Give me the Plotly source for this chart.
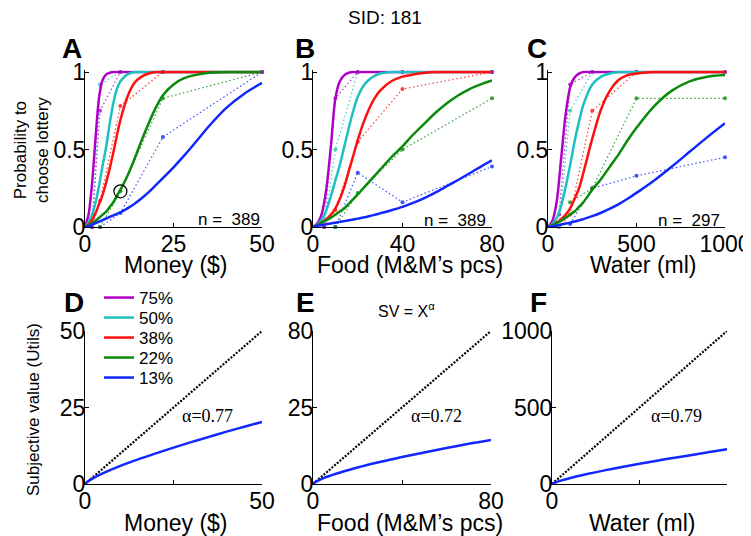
import plotly.graph_objects as go

W, H = 751, 536          # reference picture size
OFF = 8                  # browser body margin
FW, FH = W - OFF, H - OFF
FONT = "Liberation Sans, Arial, sans-serif"
SERIF = "Liberation Serif, Times New Roman, serif"

# ---------------- data ----------------
series_names = ["75%", "50%", "38%", "22%", "13%"]
series_colors = ["#b000c8", "#1cc0c0", "#ff1010", "#0a8a0a", "#1028ff"]

# Panel A: Money ($) - fitted curves
money_fit_x = [0, 1, 2, 3, 4, 5, 6, 7, 8, 9, 10, 12, 14, 16, 18, 20, 22, 25, 28, 31, 35, 40, 45, 50]
money_fit_75 = [0, 0.08, 0.28, 0.58, 0.84, 0.95, 0.985, 0.995, 1, 1, 1, 1, 1, 1, 1, 1, 1, 1, 1, 1, 1, 1, 1, 1]
money_fit_50 = [0, 0.03, 0.08, 0.16, 0.27, 0.4, 0.52, 0.67, 0.8, 0.89, 0.94, 0.985, 1, 1, 1, 1, 1, 1, 1, 1, 1, 1, 1, 1]
money_fit_38 = [0, 0.015, 0.045, 0.09, 0.15, 0.21, 0.29, 0.38, 0.48, 0.59, 0.69, 0.84, 0.93, 0.97, 0.99, 1, 1, 1, 1, 1, 1, 1, 1, 1]
money_fit_22 = [0, 0.01, 0.025, 0.04, 0.06, 0.08, 0.1, 0.13, 0.16, 0.2, 0.24, 0.33, 0.44, 0.56, 0.67, 0.77, 0.85, 0.92, 0.96, 0.98, 0.995, 1, 1, 1]
money_fit_13 = [0, 0.005, 0.015, 0.025, 0.035, 0.045, 0.055, 0.065, 0.075, 0.085, 0.095, 0.12, 0.15, 0.185, 0.225, 0.27, 0.315, 0.385, 0.46, 0.54, 0.65, 0.77, 0.86, 0.93]

# Panel A: observed choice proportions
money_pts_x_75 = [2, 4.25, 10, 22, 50]
money_pts_y_75 = [0, 0.75, 1, 1, 1]
money_pts_x_50 = [2, 4.25, 10, 22, 50]
money_pts_y_50 = [0, 0.92, 1, 1, 1]
money_pts_x_38 = [2, 4.25, 10, 22, 50]
money_pts_y_38 = [0, 0.17, 0.78, 1, 1]
money_pts_x_22 = [4.25, 10, 22, 50]
money_pts_y_22 = [0, 0.23, 0.83, 1]
money_pts_x_13 = [4.25, 10, 22, 50]
money_pts_y_13 = [0, 0.09, 0.58, 1]
money_circle_x = [10]
money_circle_y = [0.23]

# Panel B: Food (M&M's pcs)
food_fit_x = [0, 2, 4, 6, 8, 10, 12, 14, 16, 18, 20, 22.5, 25, 27.5, 30, 35, 40, 45, 50, 55, 60, 65, 70, 75, 80]
food_fit_75 = [0, 0.025, 0.09, 0.25, 0.52, 0.83, 0.94, 0.98, 0.995, 1, 1, 1, 1, 1, 1, 1, 1, 1, 1, 1, 1, 1, 1, 1, 1]
food_fit_50 = [0, 0.015, 0.05, 0.11, 0.2, 0.3, 0.4, 0.52, 0.64, 0.75, 0.84, 0.91, 0.95, 0.975, 0.99, 1, 1, 1, 1, 1, 1, 1, 1, 1, 1]
food_fit_38 = [0, 0.01, 0.03, 0.05, 0.08, 0.12, 0.18, 0.26, 0.36, 0.46, 0.56, 0.67, 0.76, 0.83, 0.88, 0.94, 0.97, 0.985, 0.995, 1, 1, 1, 1, 1, 1]
food_fit_22 = [0, 0.01, 0.03, 0.045, 0.06, 0.08, 0.1, 0.12, 0.15, 0.18, 0.21, 0.25, 0.29, 0.33, 0.37, 0.45, 0.52, 0.6, 0.67, 0.74, 0.8, 0.85, 0.89, 0.92, 0.945]
food_fit_13 = [0, 0.008, 0.013, 0.018, 0.023, 0.028, 0.033, 0.038, 0.043, 0.048, 0.054, 0.061, 0.069, 0.078, 0.088, 0.108, 0.13, 0.157, 0.188, 0.225, 0.265, 0.305, 0.347, 0.39, 0.43]

food_pts_x_75 = [5, 10, 20, 40, 80]
food_pts_y_75 = [0, 0.83, 1, 1, 1]
food_pts_x_50 = [5, 10, 20, 40, 80]
food_pts_y_50 = [0, 0.5, 1, 1, 1]
food_pts_x_38 = [5, 10, 20, 40, 80]
food_pts_y_38 = [0, 0.11, 0.55, 0.89, 1]
food_pts_x_22 = [10, 20, 40, 80]
food_pts_y_22 = [0, 0.22, 0.5, 0.83]
food_pts_x_13 = [10, 20, 40, 80]
food_pts_y_13 = [0, 0.35, 0.16, 0.39]

# Panel C: Water (ml)
water_fit_x = [0, 25, 50, 75, 100, 125, 150, 175, 200, 250, 300, 350, 400, 450, 500, 600, 700, 800, 900, 1000]
water_fit_75 = [0, 0.04, 0.17, 0.45, 0.73, 0.9, 0.965, 0.99, 1, 1, 1, 1, 1, 1, 1, 1, 1, 1, 1, 1]
water_fit_50 = [0, 0.02, 0.06, 0.14, 0.26, 0.4, 0.55, 0.68, 0.79, 0.92, 0.97, 0.99, 1, 1, 1, 1, 1, 1, 1, 1]
water_fit_38 = [0, 0.01, 0.03, 0.05, 0.08, 0.12, 0.18, 0.25, 0.35, 0.57, 0.76, 0.88, 0.95, 0.98, 0.99, 1, 1, 1, 1, 1]
water_fit_22 = [0, 0.01, 0.025, 0.04, 0.06, 0.08, 0.1, 0.13, 0.16, 0.24, 0.31, 0.39, 0.47, 0.56, 0.64, 0.78, 0.88, 0.94, 0.97, 0.98]
water_fit_13 = [0, 0.005, 0.01, 0.016, 0.022, 0.028, 0.035, 0.043, 0.051, 0.07, 0.092, 0.118, 0.148, 0.182, 0.22, 0.3, 0.39, 0.485, 0.58, 0.67]

water_pts_x_75 = [62.5, 125, 250, 500, 1000]
water_pts_y_75 = [0.08, 0.92, 1, 1, 1]
water_pts_x_50 = [62.5, 125, 250, 500, 1000]
water_pts_y_50 = [0, 0.75, 1, 1, 1]
water_pts_x_38 = [62.5, 125, 250, 500, 1000]
water_pts_y_38 = [0, 0.08, 0.75, 1, 1]
water_pts_x_22 = [125, 250, 500, 1000]
water_pts_y_22 = [0.16, 0.25, 0.83, 0.83]
water_pts_x_13 = [125, 250, 500, 1000]
water_pts_y_13 = [0.02, 0.25, 0.33, 0.45]

n_trials = ["389", "389", "297"]

# Subjective value panels
money_sv_x = [0, 1, 2.5, 5, 10, 15, 20, 25, 30, 35, 40, 45, 50]
money_sv_y = [0, 1.0, 2.0, 3.45, 5.9, 8.05, 10.0, 11.9, 13.7, 15.4, 17.1, 18.7, 20.3]
food_sv_x = [0, 1, 2.5, 5, 10, 20, 30, 40, 50, 60, 70, 80]
food_sv_y = [0, 1.0, 1.9, 3.2, 5.2, 8.6, 11.5, 14.1, 16.5, 18.8, 21.0, 23.0]
water_sv_x = [0, 10, 25, 50, 100, 200, 300, 400, 500, 600, 700, 800, 900, 1000]
water_sv_y = [0, 6.2, 12.7, 22, 38, 65, 89, 111, 132, 152, 172, 190, 209, 228]
alphas = ["0.77", "0.72", "0.79"]

money_identity = [0, 50]
food_identity = [0, 80]
water_identity = [0, 1000]

# ---------------- helpers (reference pixel -> paper) ----------------
def px(x):
    return (x - OFF) / FW

def py(y):
    return 1 - (y - OFF) / FH

legend_keys = ["legend", "legend2", "legend3", "legend4", "legend5"]

fig = go.Figure()

top_panels = [
    ("x", "y", money_fit_x, [money_fit_75, money_fit_50, money_fit_38, money_fit_22, money_fit_13],
     [(money_pts_x_75, money_pts_y_75), (money_pts_x_50, money_pts_y_50), (money_pts_x_38, money_pts_y_38),
      (money_pts_x_22, money_pts_y_22), (money_pts_x_13, money_pts_y_13)]),
    ("x2", "y2", food_fit_x, [food_fit_75, food_fit_50, food_fit_38, food_fit_22, food_fit_13],
     [(food_pts_x_75, food_pts_y_75), (food_pts_x_50, food_pts_y_50), (food_pts_x_38, food_pts_y_38),
      (food_pts_x_22, food_pts_y_22), (food_pts_x_13, food_pts_y_13)]),
    ("x3", "y3", water_fit_x, [water_fit_75, water_fit_50, water_fit_38, water_fit_22, water_fit_13],
     [(water_pts_x_75, water_pts_y_75), (water_pts_x_50, water_pts_y_50), (water_pts_x_38, water_pts_y_38),
      (water_pts_x_22, water_pts_y_22), (water_pts_x_13, water_pts_y_13)]),
]

for pi, (xa, ya, fx, fits, pts) in enumerate(top_panels):
    for si in range(4, -1, -1):
        xs, ys = pts[si]
        fig.add_trace(go.Scatter(
            x=xs, y=ys, xaxis=xa, yaxis=ya, mode="lines+markers",
            line=dict(color=series_colors[si], width=1.2, dash="1.5px,2.5px"),
            marker=dict(size=4, color=series_colors[si]), opacity=0.8,
            cliponaxis=False, showlegend=False, hoverinfo="skip"))
for pi, (xa, ya, fx, fits, pts) in enumerate(top_panels):
    for si in range(5):
        fig.add_trace(go.Scatter(
            x=fx, y=fits[si], xaxis=xa, yaxis=ya, mode="lines",
            line=dict(color=series_colors[si], width=2.5, shape="spline", smoothing=0.8),
            name=series_names[si], showlegend=(pi == 0), legendgroup=series_names[si],
            legend=legend_keys[si]))

fig.add_trace(go.Scatter(x=money_circle_x, y=money_circle_y, xaxis="x", yaxis="y", mode="markers",
                         marker=dict(symbol="circle-open", size=13, color="black", line=dict(width=1.2)),
                         showlegend=False, hoverinfo="skip"))

bottom = [("x4", "y4", money_identity, money_sv_x, money_sv_y),
          ("x5", "y5", food_identity, food_sv_x, food_sv_y),
          ("x6", "y6", water_identity, water_sv_x, water_sv_y)]
for xa, ya, ident, sx, sy in bottom:
    fig.add_trace(go.Scatter(x=ident, y=ident, xaxis=xa, yaxis=ya, mode="lines",
                             line=dict(color="black", width=2.2, dash="2px,1.5px"),
                             showlegend=False, hoverinfo="skip"))
    fig.add_trace(go.Scatter(x=sx, y=sy, xaxis=xa, yaxis=ya, mode="lines",
                             line=dict(color=series_colors[4], width=2.5, shape="spline"),
                             showlegend=False))

# ---------------- axes ----------------
def axis(domain, rng, tickvals, ticktext, anchor, standoff):
    return dict(domain=domain, range=rng, tickvals=tickvals, ticktext=ticktext, anchor=anchor,
                showline=True, linecolor="black", linewidth=1, ticks="inside", ticklen=4,
                tickcolor="black", showgrid=False, zeroline=False, fixedrange=True,
                automargin=False, ticklabelstandoff=standoff,
                tickfont=dict(family=FONT, size=23, color="black"))

XS, YS = -4, -6
top_y = [py(227), py(70.45)]
bot_y = [py(484), py(331)]
xA = [px(85), px(262)]
xB = [px(313), px(492)]
xC = [px(548), px(725)]
xD = [px(85), px(262)]
xE = [px(313), px(491)]
xF = [px(552), px(727)]

layout = dict(
    template="none",
    width=FW, height=FH, margin=dict(l=0, r=0, t=0, b=0, pad=0), autosize=False,
    paper_bgcolor="white", plot_bgcolor="white",
    font=dict(family=FONT, color="black"),
    xaxis=axis(xA, [0, 50], [0, 25, 50], ["0", "25", "50"], "y", XS),
    yaxis=axis(top_y, [0, 1.01], [0, 0.5, 1], ["0", "0.5", "1"], "x", YS),
    xaxis2=axis(xB, [0, 80], [0, 40, 80], ["0", "40", "80"], "y2", XS),
    yaxis2=axis(top_y, [0, 1.01], [0, 0.5, 1], ["0", "0.5", "1"], "x2", YS),
    xaxis3=axis(xC, [0, 1000], [0, 500, 1000], ["0", "500", "1000"], "y3", XS),
    yaxis3=axis(top_y, [0, 1.01], [0, 0.5, 1], ["0", "0.5", "1"], "x3", YS),
    xaxis4=axis(xD, [0, 50], [0, 25, 50], ["0", "", "50"], "y4", XS),
    yaxis4=axis(bot_y, [0, 50], [0, 25, 50], ["0", "25", "50"], "x4", YS),
    xaxis5=axis(xE, [0, 80], [0, 40, 80], ["0", "", "80"], "y5", XS),
    yaxis5=axis(bot_y, [0, 80], [0, 40, 80], ["0", "25", "80"], "x5", YS),
    xaxis6=axis(xF, [0, 1000], [0, 500, 1000], ["0", "", "1000"], "y6", XS),
    yaxis6=axis(bot_y, [0, 1000], [0, 500, 1000], ["0", "500", "1000"], "x6", YS),
    showlegend=True,
)
# one legend per entry so the rows sit 20 px apart, as in the reference
for si, key in enumerate(legend_keys):
    layout[key] = dict(x=px(99), y=py(298 + 20 * si), xanchor="left", yanchor="middle",
                       bgcolor="rgba(0,0,0,0)", borderwidth=0, itemwidth=30,
                       font=dict(family=FONT, size=17, color="black"))
fig.update_layout(**layout)

ann = []
def text(x, y, s, size, xanchor="center", family=FONT, bold=False, angle=0):
    if bold:
        s = "<b>" + s + "</b>"
    ann.append(dict(x=px(x), y=py(y), xref="paper", yref="paper", text=s, showarrow=False,
                    xanchor=xanchor, yanchor="middle", textangle=angle,
                    font=dict(family=family, size=size, color="black")))

text(385, 18, "SID: 181", 19)
for (lx, ly, L) in [(72, 48, "A"), (305, 48, "B"), (537, 48, "C"),
                    (74, 302, "D"), (305, 302, "E"), (538, 302, "F")]:
    text(lx, ly, L, 28, bold=True)

text(176, 265, "Money ($)", 23)
text(410, 265, "Food (M&amp;M’s pcs)", 23)
text(643, 265, "Water (ml)", 23)
text(176, 523, "Money ($)", 23)
text(410, 523, "Food (M&amp;M’s pcs)", 23)
text(642, 523, "Water (ml)", 23)

text(31, 150, "Probability to<br>choose lottery", 17, angle=-90)
text(33, 410, "Subjective value (Utils)", 17, angle=-90)

text(262, 219, "n =\u00a0\u00a0" + n_trials[0], 17, xanchor="right")
text(488, 221, "n =\u00a0\u00a0" + n_trials[1], 17, xanchor="right")
text(722, 221, "n =\u00a0\u00a0" + n_trials[2], 17, xanchor="right")

text(406, 310, "SV = X<sup>α</sup>", 16)
text(207, 416, "α=" + alphas[0], 18, family=SERIF)
text(436, 416, "α=" + alphas[1], 18, family=SERIF)
text(676, 416, "α=" + alphas[2], 18, family=SERIF)

fig.update_layout(annotations=ann)
fig.write_html("out.html")
